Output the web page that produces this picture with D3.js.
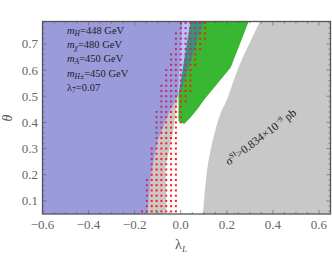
<!DOCTYPE html>
<html>
<head>
<meta charset="utf-8">
<script src="https://cdn.jsdelivr.net/npm/d3@7"></script>
<style>
  body { margin: 0; background: #fff; }
  svg { display: block; font-family: "Liberation Serif", serif; }
</style>
</head>
<body>
<svg id="chart" width="332" height="256"></svg>
<script>
// axis ranges and ticks
const xDomain = [-0.6, 0.65];
const yDomain = [0.05, Math.PI / 4];
const xTicks = [-0.6, -0.4, -0.2, 0.0, 0.2, 0.4, 0.6];
const yTicks = [0.1, 0.2, 0.3, 0.4, 0.5, 0.6, 0.7];

// excluded regions, [lambda_L, theta]
const grayLeftEdge = [[-0.062, 0.05], [-0.066, 0.23], [-0.032, 0.37], [-0.014, 0.484], [0.007, 0.785]];
const grayRightEdge = [[0.097, 0.05], [0.116, 0.229], [0.147, 0.359], [0.173, 0.435], [0.199, 0.484], [0.251, 0.61], [0.339, 0.777], [0.343, 0.785]];
const blueEdge = [[-0.145, 0.05], [-0.13, 0.2], [-0.1, 0.33], [-0.05, 0.44], [0.0, 0.52], [0.05, 0.65], [0.099, 0.785]];
const greenArea = [[0.042, 0.785], [0.295, 0.785], [0.217, 0.61], [0.099, 0.484], [0.078, 0.457], [0.043, 0.419], [0.015, 0.394], [-0.01, 0.405], [-0.01, 0.503]];

// red scan points: theta rows, lambda columns, and the band per row [theta, lambda]
const dotTheta = d3.range(0.06, 0.781, 0.02);
const dotLambda = d3.range(-0.168, 0.121, 0.021);
const dotLeft = [[0.06, -0.165], [0.3, -0.12], [0.45, -0.1], [0.55, -0.08], [0.63, -0.045], [0.72, -0.025], [0.78, 0.005]];
const dotRight = [[0.06, -0.02], [0.3, -0.02], [0.45, 0.006], [0.55, 0.05], [0.63, 0.06], [0.72, 0.1], [0.78, 0.1]];

const labels = [
  { m: "H", v: "=448 GeV" },
  { m: "χ", v: "=480 GeV" },
  { m: "A", v: "=450 GeV" },
  { m: "H±", v: "=450 GeV" }
];

const svg = d3.select("#chart");
const x = d3.scaleLinear().domain(xDomain).range([42.5, 330.5]);
const y = d3.scaleLinear().domain(yDomain).range([214, 21.5]);
const line = d3.line().x(d => x(d[0])).y(d => y(d[1]));
const smooth = d3.line().x(d => x(d[0])).y(d => y(d[1])).curve(d3.curveCatmullRom);

svg.append("clipPath").attr("id", "clip")
  .append("rect").attr("x", x(xDomain[0])).attr("y", y(yDomain[1]))
  .attr("width", x(xDomain[1]) - x(xDomain[0])).attr("height", y(yDomain[0]) - y(yDomain[1]));
const plot = svg.append("g").attr("clip-path", "url(#clip)");

// gray left region
const grayL = [[xDomain[0], yDomain[0]]].concat(grayLeftEdge, [[xDomain[0], yDomain[1]]]);
plot.append("path").attr("d", line(grayL) + "Z").attr("fill", "#c8c8c8");

// gray right region (smooth edge)
const grayPath = smooth(grayRightEdge) + "L" + x(xDomain[1]) + "," + y(yDomain[1]) + "L" + x(xDomain[1]) + "," + y(yDomain[0]) + "Z";
plot.append("path").attr("d", grayPath).attr("fill", "#c8c8c8");

// green region
plot.append("path").attr("d", line(greenArea) + "Z").attr("fill", "#38b832");

// red dots
function edgeAt(edge, t) {
  const f = d3.scaleLinear().domain(edge.map(d => d[0])).range(edge.map(d => d[1]));
  return f(t);
}
const dots = [];
dotTheta.forEach(t => {
  const lo = edgeAt(dotLeft, t), hi = edgeAt(dotRight, t);
  dotLambda.forEach(l => { if (l >= lo - 0.006 && l <= hi + 0.006) dots.push([l, t]); });
});
plot.selectAll("rect.dot").data(dots).enter().append("rect")
  .attr("class", "dot")
  .attr("x", d => x(d[0]) - 1).attr("y", d => y(d[1]) - 1)
  .attr("width", 2).attr("height", 2).attr("fill", "#ff1a1a");

// blue translucent region
const blue = [[xDomain[0], yDomain[0]]].concat(blueEdge, [[xDomain[0], yDomain[1]]]);
plot.append("path").attr("d", line(blue) + "Z").attr("fill", "rgba(75,75,255,0.36)");

// frame and ticks
const frame = svg.append("g").attr("stroke", "#555").attr("fill", "none");
frame.append("rect").attr("x", x(xDomain[0])).attr("y", y(yDomain[1]))
  .attr("width", x(xDomain[1]) - x(xDomain[0])).attr("height", y(yDomain[0]) - y(yDomain[1]))
  .attr("stroke-width", 1.3);
const xMinor = d3.range(-0.6, 0.651, 0.05);
const yMinor = d3.range(0.06, 0.785, 0.02);
xMinor.forEach(v => {
  const major = xTicks.some(t => Math.abs(t - v) < 1e-6);
  const len = major ? 4 : 2;
  frame.append("line").attr("x1", x(v)).attr("x2", x(v)).attr("y1", y(yDomain[0])).attr("y2", y(yDomain[0]) - len).attr("stroke-width", 0.6);
  frame.append("line").attr("x1", x(v)).attr("x2", x(v)).attr("y1", y(yDomain[1])).attr("y2", y(yDomain[1]) + len).attr("stroke-width", 0.6);
});
yMinor.forEach(v => {
  const major = yTicks.some(t => Math.abs(t - v) < 1e-6);
  const len = major ? 4 : 2;
  frame.append("line").attr("y1", y(v)).attr("y2", y(v)).attr("x1", x(xDomain[0])).attr("x2", x(xDomain[0]) + len).attr("stroke-width", 0.6);
  frame.append("line").attr("y1", y(v)).attr("y2", y(v)).attr("x1", x(xDomain[1])).attr("x2", x(xDomain[1]) - len).attr("stroke-width", 0.6);
});

// tick labels
const fmt = d => (d < 0 ? "−" : "") + d3.format(".1f")(Math.abs(d));
svg.selectAll("text.xt").data(xTicks).enter().append("text")
  .attr("x", d => x(d)).attr("y", 229).attr("text-anchor", "middle")
  .attr("font-size", 13).attr("fill", "#666").text(fmt);
svg.selectAll("text.yt").data(yTicks).enter().append("text")
  .attr("x", 38).attr("y", d => y(d) + 4.5).attr("text-anchor", "end")
  .attr("font-size", 13).attr("fill", "#666").text(fmt);

// axis titles
const xl = svg.append("text").attr("x", 181).attr("y", 249).attr("text-anchor", "middle")
  .attr("font-size", 14).attr("fill", "#555");
xl.append("tspan").text("λ");
xl.append("tspan").attr("font-size", 9).attr("font-style", "italic").attr("dy", 3).text("L");
svg.append("text").attr("transform", "translate(12,118) rotate(-90)").attr("text-anchor", "middle")
  .attr("font-size", 14).attr("font-style", "italic").attr("fill", "#555").text("θ");

// parameter labels
labels.forEach((d, i) => {
  const t = svg.append("text").attr("x", 67).attr("y", 34 + i * 14.2).attr("font-size", 10.5).attr("fill", "#222");
  t.append("tspan").attr("font-style", "italic").text("m");
  t.append("tspan").attr("font-style", "italic").attr("font-size", 7.5).attr("dy", 2).text(d.m);
  t.append("tspan").attr("dy", -2).text(d.v);
});
const l7 = svg.append("text").attr("x", 67).attr("y", 91).attr("font-size", 10.5).attr("fill", "#222");
l7.append("tspan").text("λ");
l7.append("tspan").attr("font-size", 7.5).attr("dy", 2).text("7");
l7.append("tspan").attr("dy", -2).text("=0.07");

// cross-section label
const s = svg.append("text").attr("transform", "translate(263,140) rotate(-37)")
  .attr("text-anchor", "middle").attr("font-size", 11.5).attr("fill", "#222");
s.append("tspan").text("σ");
s.append("tspan").attr("font-size", 7.5).attr("dy", -4).text("SI");
s.append("tspan").attr("dy", 4).text(">0.834×10");
s.append("tspan").attr("font-size", 7.5).attr("dy", -4).text("−9");
s.append("tspan").attr("dy", 4).text(" pb");
</script>
</body>
</html>
